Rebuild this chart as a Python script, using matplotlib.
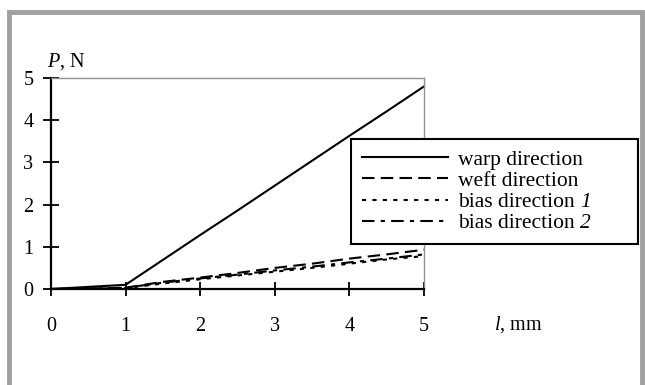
import matplotlib
matplotlib.use('Agg')
import matplotlib.pyplot as plt
from matplotlib.patches import Rectangle

plt.rcParams['font.family'] = 'Liberation Serif'
plt.rcParams['mathtext.fontset'] = 'custom'
plt.rcParams['mathtext.rm'] = 'Liberation Serif'
plt.rcParams['mathtext.it'] = 'Liberation Serif:italic'

# extension l (mm) and load P (N)
l_mm = [0, 0.5, 1, 1.5, 2, 2.5, 3, 3.5, 4, 4.5, 5]
warp = [0, 0.05, 0.1, 0.69, 1.28, 1.86, 2.45, 3.04, 3.63, 4.21, 4.8]
weft = [0, 0.01, 0.03, 0.17, 0.27, 0.38, 0.5, 0.6, 0.72, 0.82, 0.93]
bias1 = [0, 0.01, 0.02, 0.13, 0.23, 0.32, 0.41, 0.5, 0.6, 0.7, 0.78]
bias2 = [0, 0.01, 0.03, 0.15, 0.25, 0.34, 0.44, 0.53, 0.63, 0.72, 0.82]
labels = ['warp direction', 'weft direction', 'bias direction', 'bias direction']
suffixes = ['', '', '1', '2']  # italic curve numbers after the label
ticks = [0, 1, 2, 3, 4, 5]

fs = 14.5
lfs = 15.5

fig = plt.figure(figsize=(6.45, 3.85), dpi=100)
ax = fig.add_axes([51/645, 1 - 289/385, 373/645, 211/385])

lw = 1.5
ax.plot(l_mm, warp, color='black', lw=lw, ls='-', label=labels[0], clip_on=False)
ax.plot(l_mm, weft, color='black', lw=lw, ls=(0, (6, 3)), label=labels[1], clip_on=False)
ax.plot(l_mm, bias1, color='black', lw=lw, ls=(0, (2, 3)), label=labels[2], clip_on=False)
ax.plot(l_mm, bias2, color='black', lw=lw, ls=(0, (6, 3, 2, 3)), label=labels[3], clip_on=False)

ax.set_xlim(0, 5)
ax.set_ylim(0, 5)
ax.set_xticks(ticks)
ax.set_yticks(ticks)

for side in ['left', 'bottom']:
    ax.spines[side].set_linewidth(1.6)
    ax.spines[side].set_color('black')
for side in ['top', 'right']:
    ax.spines[side].set_linewidth(1.0)
    ax.spines[side].set_color('#909090')

ax.tick_params(axis='both', direction='inout', width=1.3, labelsize=fs)
ax.tick_params(axis='x', length=10, pad=15)
ax.tick_params(axis='y', length=11.5, pad=7)

fig.text(47/645, 1 - 62/385, r'$P$, N', fontsize=fs, va='center', ha='left')
fig.text(494/645, 1 - 325/385, r'$l$, mm', fontsize=fs, va='center', ha='left')

leg = fig.legend(loc='upper left',
                 bbox_to_anchor=(351/645, 1 - 245/385, 287/645, 106/385),
                 mode='expand', frameon=True, fancybox=False, framealpha=1,
                 fontsize=lfs, handlelength=4.0, handletextpad=0.45,
                 labelspacing=0.05, borderpad=0.5, borderaxespad=0)
leg.get_frame().set_edgecolor('black')
leg.get_frame().set_linewidth(1.5)

# italic numbers after "bias direction"
fig.canvas.draw()
renderer = fig.canvas.get_renderer()
for txt, suf in zip(leg.get_texts(), suffixes):
    if not suf:
        continue
    bb = txt.get_window_extent(renderer)
    fig.text(bb.x1 + 6, (bb.y0 + bb.y1) / 2, suf, transform=None,
             fontsize=lfs, style='italic', va='center', ha='left', zorder=10)

# outer gray frame
fig.patches.append(Rectangle((8.5/645, -0.2), (642 - 8.5)/645, 1.2 - 11.5/385,
                             transform=fig.transFigure, fill=False,
                             edgecolor='#a0a0a0', lw=3.5))

fig.savefig('out.png', dpi=100)
